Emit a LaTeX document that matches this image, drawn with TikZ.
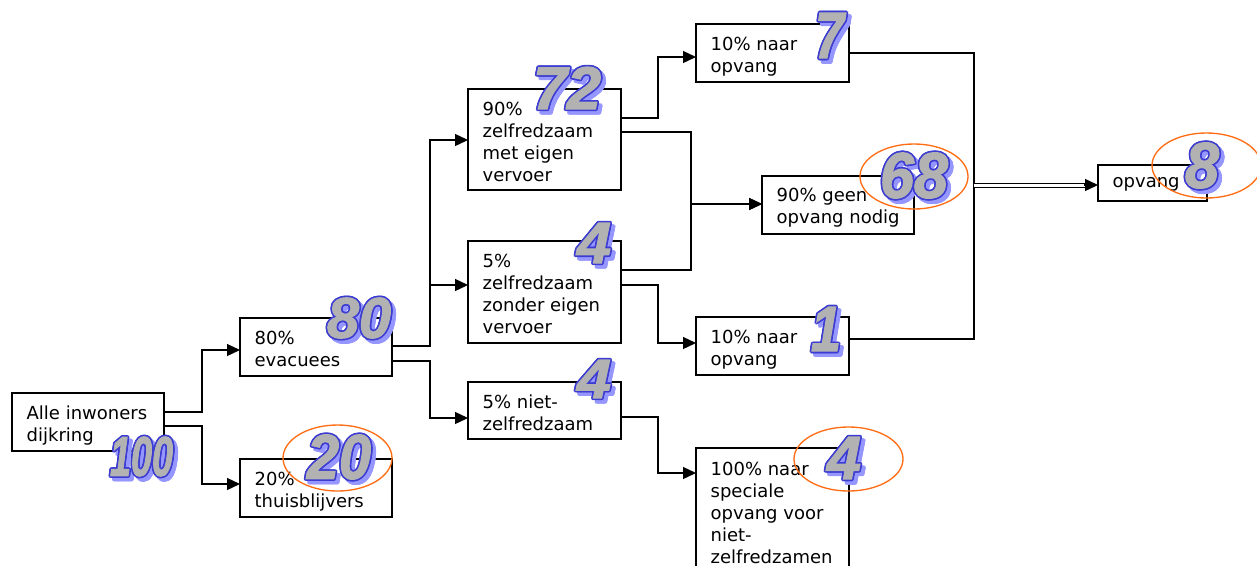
\documentclass[tikz,border=0pt]{standalone}
\usepackage{fontspec}
\setmainfont{DejaVu Sans}
\newfontfamily\numfont{Liberation Sans}[FakeBold=2]
\usepackage{graphicx}
\usetikzlibrary{arrows.meta,calc}
\newdimen\upx \upx=0.75pt
\definecolor{numgray}{RGB}{178,178,178}
\definecolor{numblue}{RGB}{60,60,210}
\definecolor{numshadow}{RGB}{150,150,255}
\definecolor{ovalorange}{RGB}{255,110,20}
\newcommand\numbox[3]{\resizebox{#2\upx}{#3\upx}{\numfont\bfseries\itshape #1}}
\newcommand\bignum[6]{%
  \foreach \a in {0,30,...,330} {\node[numsh] at ($(#2+3.5,#3+3.5)+(\a:1.6)$) {\numbox{#4}{#5}{#6}};}
  \foreach \a in {0,30,...,330} {\node[numol] at ($(#2,#3)+(\a:1.6)$) {\numbox{#4}{#5}{#6}};}
  \node[numfg] (#1) at (#2,#3) {\numbox{#4}{#5}{#6}};
}
\begin{document}
\begin{tikzpicture}[x=0.75pt,y=-0.75pt,line width=1pt,
  font=\fontsize{13.5}{16.5}\selectfont,
  box/.style={draw, line width=1pt, anchor=north west, inner sep=0pt, outer sep=0pt},
  txt/.style={anchor=north west, inner sep=0pt, align=left},
  arr/.style={-{Triangle[length=9.75pt,width=9pt]}},
  oval/.style={draw=ovalorange, line width=1pt},
  numsh/.style={text=numshadow, inner sep=0pt},
  numol/.style={text=numblue, inner sep=0pt},
  numfg/.style={text=numgray, inner sep=0pt}]
\clip (0,0) rectangle (1257,565);
\fill[white] (0,0) rectangle (1257,565);
% boxes
\node[box, minimum width=152*0.75pt, minimum height=58*0.75pt] (b1) at (12,393) {};
\node[box, minimum width=152*0.75pt, minimum height=58*0.75pt] (b2) at (240,318) {};
\node[box, minimum width=152*0.75pt, minimum height=58*0.75pt] (b3) at (240,459) {};
\node[box, minimum width=153*0.75pt, minimum height=101*0.75pt] (b4) at (468,89) {};
\node[box, minimum width=153*0.75pt, minimum height=102*0.75pt] (b5) at (468,241) {};
\node[box, minimum width=153*0.75pt, minimum height=57*0.75pt] (b6) at (468,382) {};
\node[box, minimum width=153*0.75pt, minimum height=58*0.75pt] (b7) at (696,24) {};
\node[box, minimum width=152*0.75pt, minimum height=58*0.75pt] (b8) at (762,176) {};
\node[box, minimum width=153*0.75pt, minimum height=58*0.75pt] (b9) at (696,317) {};
\node[box, minimum width=153*0.75pt, minimum height=140*0.75pt] (b10) at (696,448) {};
\node[box, minimum width=109*0.75pt, minimum height=36*0.75pt] (b11) at (1098,165) {};
% texts
\node[txt] (t1) at ($(b1.north west)+(14,12)$) {Alle inwoners\\dijkring};
\node[txt] (t2) at ($(b2.north west)+(14,12)$) {80\%\\evacuees};
\node[txt] (t3) at ($(b3.north west)+(14,12)$) {20\%\\thuisblijvers};
\node[txt] (t4) at ($(b4.north west)+(14,12)$) {90\%\\zelfredzaam\\met eigen\\vervoer};
\node[txt] (t5) at ($(b5.north west)+(14,12)$) {5\%\\zelfredzaam\\zonder eigen\\vervoer};
\node[txt] (t6) at ($(b6.north west)+(14,12)$) {5\% niet-\\zelfredzaam};
\node[txt] (t7) at ($(b7.north west)+(14,12)$) {10\% naar\\opvang};
\node[txt] (t8) at ($(b8.north west)+(14,11)$) {90\% geen\\opvang nodig};
\node[txt] (t9) at ($(b9.north west)+(14,12)$) {10\% naar\\opvang};
\node[txt] (t10) at ($(b10.north west)+(14,13)$) {100\% naar\\speciale\\opvang voor\\niet-\\zelfredzamen};
\node[txt] (t11) at ($(b11.north west)+(14,12)$) {opvang};
% connectors
\draw[arr] ($(b1.north east)+(0,19)$) -- ++(38,0) |- ($(b2.north west)+(0,32)$);
\draw[arr] ($(b1.north east)+(0,33)$) -- ++(38,0) |- ($(b3.north west)+(0,25)$);
\draw[arr] ($(b2.north east)+(0,28)$) -- ++(38,0) |- ($(b4.north west)+(0,51)$);
\draw[arr] ($(b2.north east)+(0,28)$) -- ++(38,0) |- ($(b5.north west)+(0,44)$);
\draw[arr] ($(b2.north east)+(0,43)$) -- ++(38,0) |- ($(b6.north west)+(0,36)$);
\draw[arr] ($(b4.north east)+(0,29)$) -- ++(37,0) |- ($(b7.north west)+(0,33)$);
\draw[arr] ($(b4.north east)+(0,43)$) -- ++(70,0) |- ($(b8.north west)+(0,28)$);
\draw[arr] ($(b5.north east)+(0,29)$) -- ++(70,0) |- ($(b8.north west)+(0,28)$);
\draw[arr] ($(b5.north east)+(0,44)$) -- ++(37,0) |- ($(b9.north west)+(0,26)$);
\draw[arr] ($(b6.north east)+(0,35)$) -- ++(37,0) |- ($(b10.north west)+(0,25)$);
\draw ($(b7.north east)+(0,29)$) -- ++(125,0) |- ($(b9.north east)+(0,22)$);
\coordinate (j) at ($(b11.north west)+(-124,20)$);
\draw[double, double distance=2.25pt, line width=0.75pt] (j) -- ($(b11.north west)+(-12,20)$);
\draw[arr] ($(b11.north west)+(-14,20)$) -- ($(b11.north west)+(0,20)$);
% ovals
\draw[oval] (337.5,458) ellipse [x radius=54.5, y radius=33];
\draw[oval] (914,176.5) ellipse [x radius=54, y radius=32.5];
\draw[oval] (848.5,459) ellipse [x radius=54.5, y radius=32];
\draw[oval] (1206.5,165.5) ellipse [x radius=54.5, y radius=32.5];
% big numbers
\bignum{n100}{141.5}{456.5}{100}{63}{39}
\bignum{n80}{359}{318}{80}{64}{40}
\bignum{n20}{339}{457}{20}{64}{44}
\bignum{n72}{567}{88}{72}{68}{42}
\bignum{n4a}{594}{243}{4}{34}{40}
\bignum{n4b}{594}{379}{4}{34}{38}
\bignum{n7}{829.5}{35.5}{7}{29}{45}
\bignum{n68}{914}{175.5}{68}{68}{45}
\bignum{n1}{826}{329}{1}{30}{44}
\bignum{n4c}{844}{458}{4}{34}{42}
\bignum{n8}{1202}{165.5}{8}{34}{45}
\end{tikzpicture}
\end{document}
